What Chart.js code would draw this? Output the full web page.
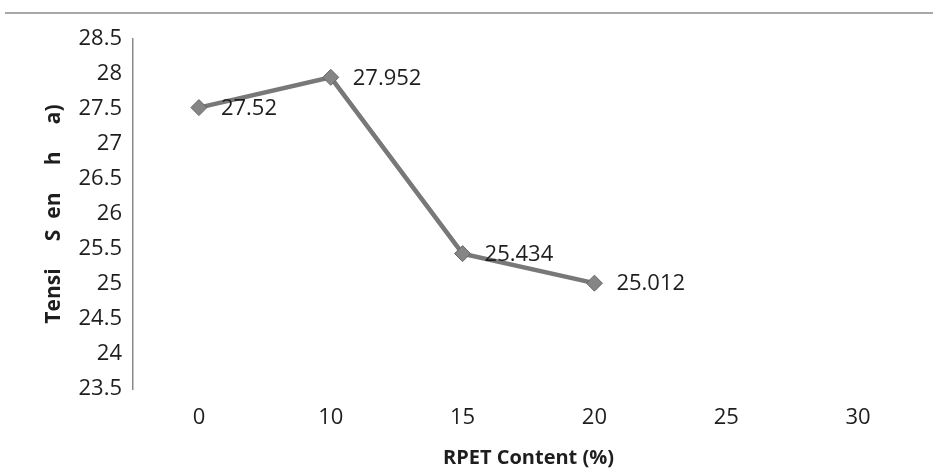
<!DOCTYPE html>
<html>
<head>
<meta charset="utf-8">
<script src="https://cdn.jsdelivr.net/npm/chart.js@4/dist/chart.umd.min.js"></script>
<style>
  html, body { margin: 0; padding: 0; background: #fff; }
  #wrap { width: 933px; height: 470px; position: relative; }
</style>
</head>
<body>
<div id="wrap"><canvas id="c"></canvas></div>
<script>
// RPET content levels (%) shown on the x axis
const categories = ['0', '10', '15', '20', '25', '30'];
// Measured tensile strength for each level (only first four measured)
const strength = [27.52, 27.952, 25.434, 25.012, null, null];
// Value labels printed next to each point
const valueLabels = ['27.52', '27.952', '25.434', '25.012'];
const yTitle = 'Tensi     S  en     h     a)';
const xTitle = 'RPET Content (%)';

const FONT = '"Open Sans", Lato, "Liberation Sans", sans-serif';

// Thin grey rule across the top of the figure
const topRule = {
  id: 'topRule',
  beforeDraw(chart) {
    const ctx = chart.ctx;
    ctx.save();
    ctx.strokeStyle = '#a8a8a8';
    ctx.lineWidth = 2;
    ctx.beginPath();
    ctx.moveTo(5, 13);
    ctx.lineTo(chart.width, 13);
    ctx.stroke();
    ctx.restore();
  }
};

// Value text drawn to the right of each marker
const pointLabels = {
  id: 'pointLabels',
  afterDatasetsDraw(chart) {
    const ctx = chart.ctx;
    const meta = chart.getDatasetMeta(0);
    ctx.save();
    ctx.font = '22px ' + FONT;
    ctx.fillStyle = '#1e1e1e';
    ctx.textAlign = 'left';
    ctx.textBaseline = 'middle';
    meta.data.forEach((pt, i) => {
      if (strength[i] == null || valueLabels[i] == null) return;
      ctx.fillText(valueLabels[i], pt.x + 22, pt.y + 1);
    });
    ctx.restore();
  }
};

new Chart(document.getElementById('c'), {
  type: 'line',
  data: {
    labels: categories,
    datasets: [{
      data: strength,
      borderColor: '#787878',
      borderWidth: 4.5,
      pointStyle: 'rectRot',
      pointRadius: 8,
      pointBackgroundColor: '#858585',
      pointBorderColor: '#666',
      pointBorderWidth: 1,
      tension: 0,
      spanGaps: false
    }]
  },
  options: {
    responsive: true,
    maintainAspectRatio: false,
    animation: false,
    layout: { padding: { left: 41, right: 8, top: 39, bottom: 0 } },
    plugins: {
      legend: { display: false },
      tooltip: { enabled: false }
    },
    scales: {
      x: {
        type: 'category',
        offset: true,
        grid: { display: false, drawTicks: false },
        border: { display: false },
        ticks: { color: '#1e1e1e', font: { family: FONT, size: 22 }, padding: 16 },
        title: {
          display: true, text: xTitle, color: '#1e1e1e',
          font: { family: FONT, size: 20, weight: 'bold' },
          padding: { top: 0, bottom: 0 }
        },
        afterFit(scale) { scale.height = 81; }
      },
      y: {
        min: 23.5,
        max: 28.5,
        grid: { display: false, drawTicks: false },
        border: { display: true, color: '#8a8a8a', width: 1.5 },
        ticks: {
          stepSize: 0.5,
          color: '#1e1e1e',
          font: { family: FONT, size: 22 },
          padding: 11,
          callback: v => String(v)
        },
        title: {
          display: true, text: yTitle, color: '#1e1e1e',
          font: { family: FONT, size: 21, weight: 'bold' },
          padding: 0
        },
        afterFit(scale) { scale.width = 92; }
      }
    }
  },
  plugins: [topRule, pointLabels]
});
</script>
</body>
</html>
